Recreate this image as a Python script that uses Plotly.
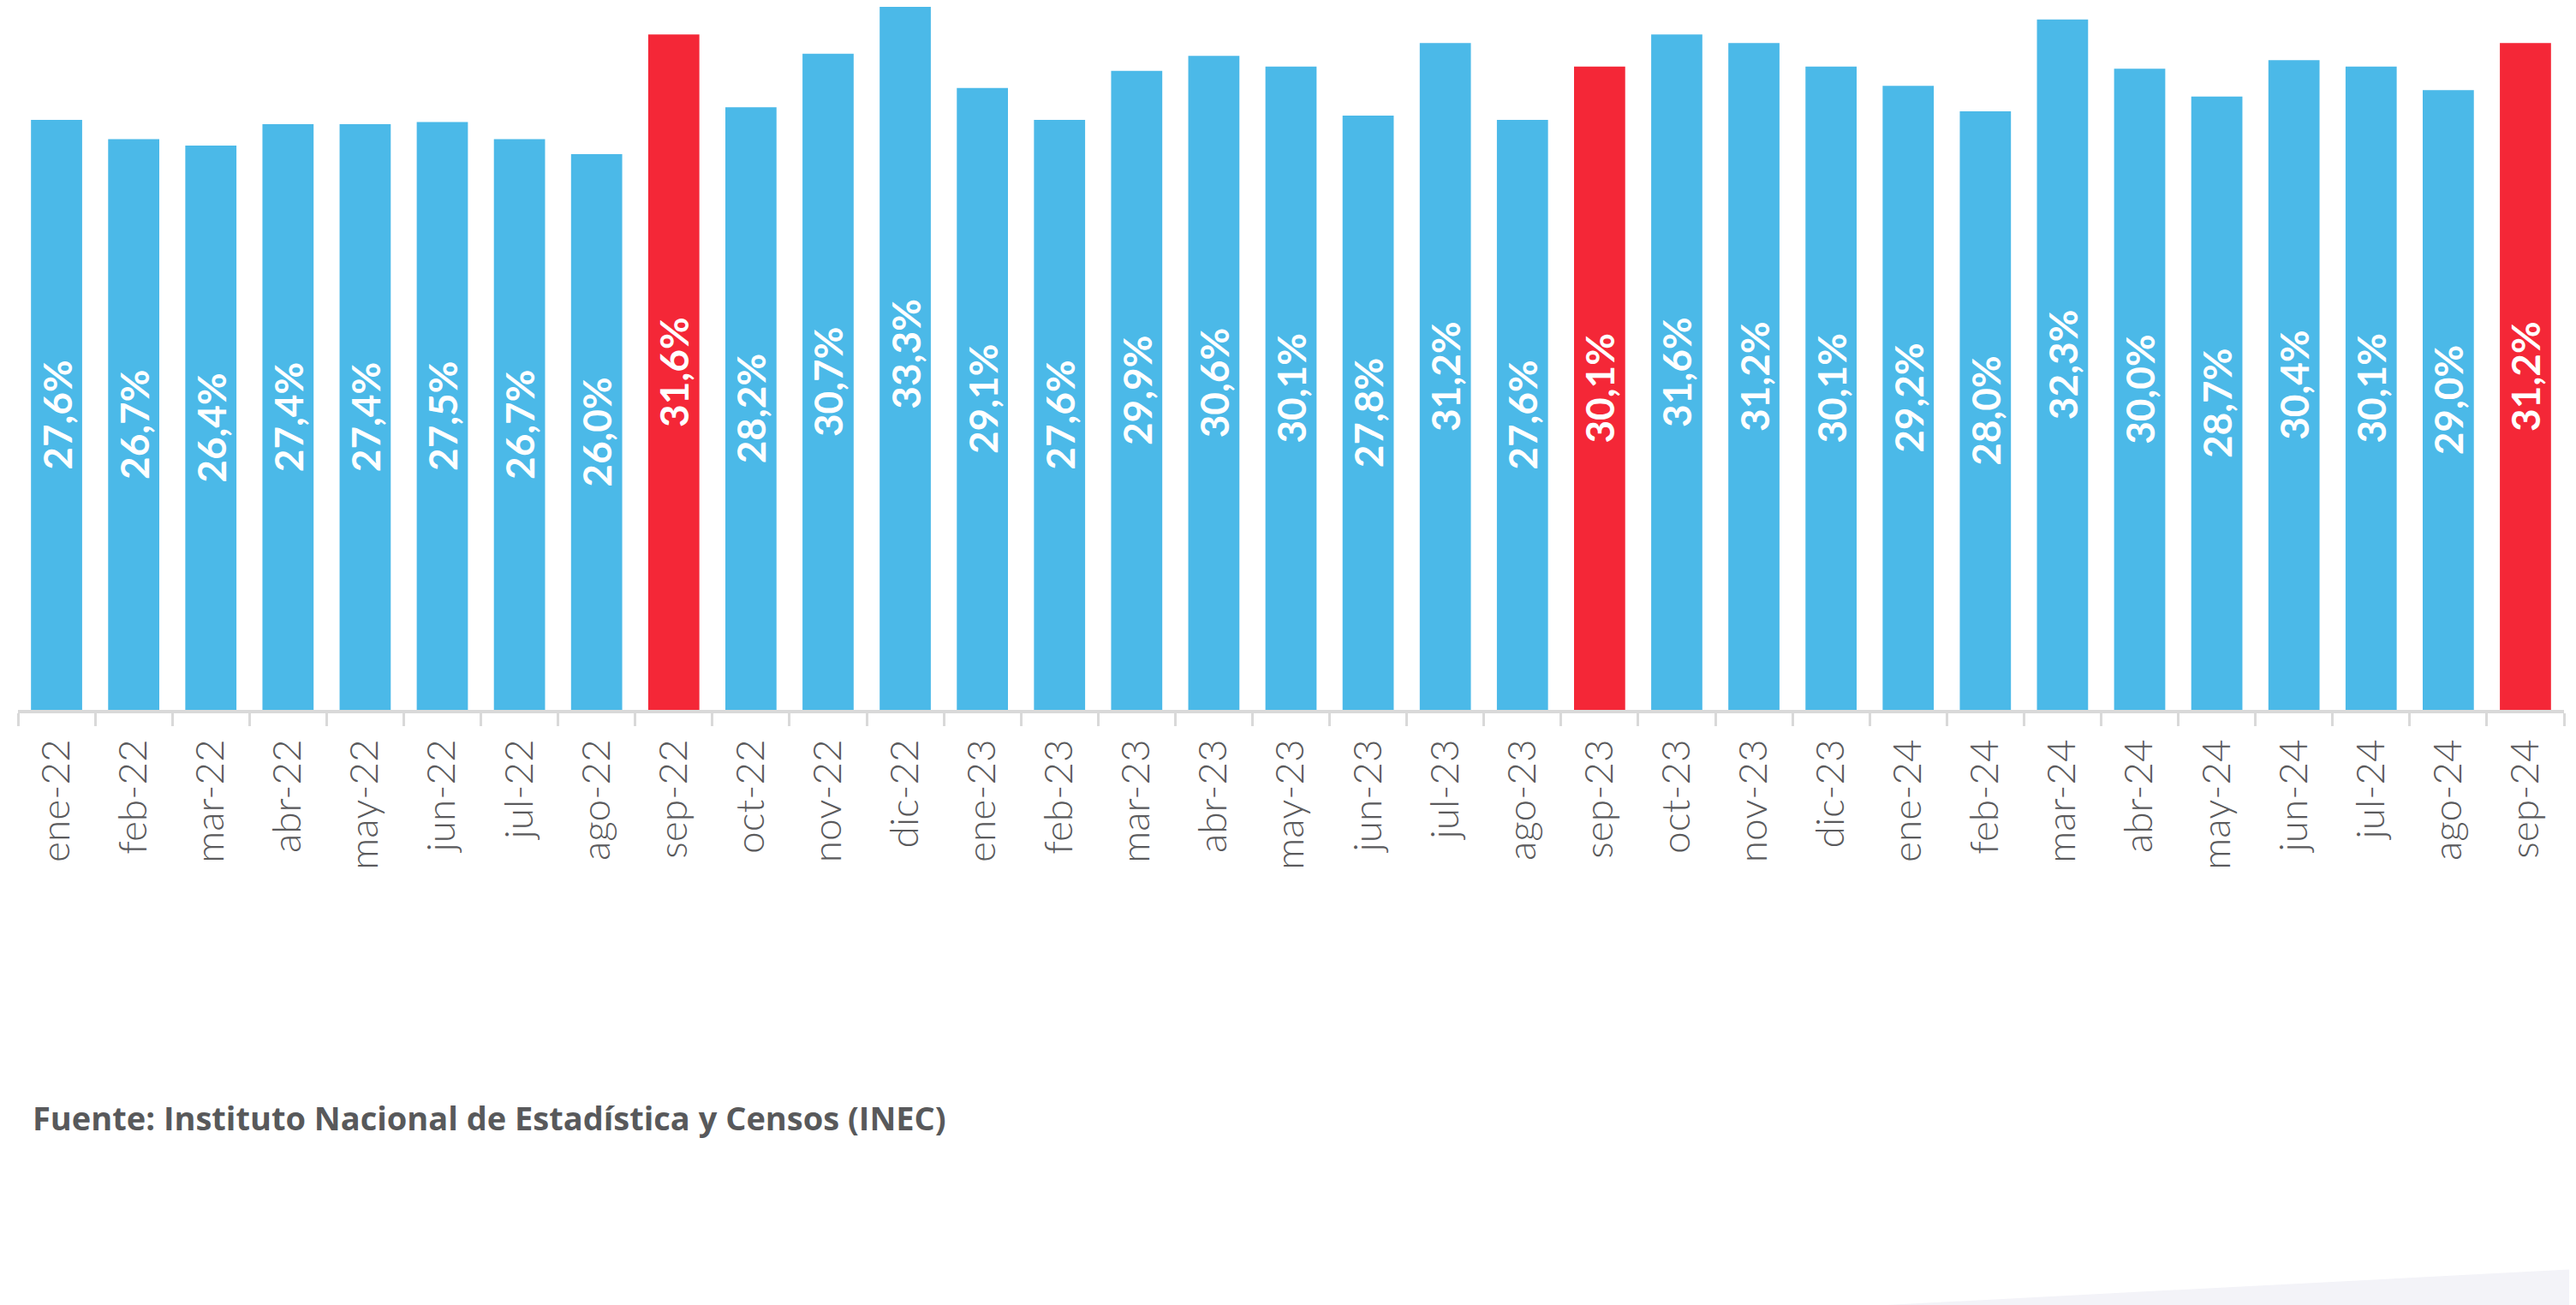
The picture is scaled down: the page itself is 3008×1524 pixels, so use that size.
import plotly.graph_objects as go

# ---------------- data ----------------
months = ["ene-22", "feb-22", "mar-22", "abr-22", "may-22", "jun-22", "jul-22", "ago-22",
          "sep-22", "oct-22", "nov-22", "dic-22",
          "ene-23", "feb-23", "mar-23", "abr-23", "may-23", "jun-23", "jul-23", "ago-23",
          "sep-23", "oct-23", "nov-23", "dic-23",
          "ene-24", "feb-24", "mar-24", "abr-24", "may-24", "jun-24", "jul-24", "ago-24",
          "sep-24"]
values = [27.6, 26.7, 26.4, 27.4, 27.4, 27.5, 26.7, 26.0,
          31.6, 28.2, 30.7, 33.3,
          29.1, 27.6, 29.9, 30.6, 30.1, 27.8, 31.2, 27.6,
          30.1, 31.6, 31.2, 30.1,
          29.2, 28.0, 32.3, 30.0, 28.7, 30.4, 30.1, 29.0,
          31.2]
highlight = ["sep-22", "sep-23", "sep-24"]
source_text = "Fuente: Instituto Nacional de Estadística y Censos (INEC)"

# ---------------- style ----------------
PAGE_OFF = 8                      # default body margin of the html page
W, H = 3008 - PAGE_OFF, 1524 - PAGE_OFF
ML, MR, MT = 12.5, 14, 0
PLOT_BOTTOM = 829 - PAGE_OFF
MB = H - PLOT_BOTTOM
PX_PER_UNIT = 24.96
BLUE = "#4bb9e8"
RED = "#f42737"
GREY_TXT = "#5a5a5c"
AXIS_GREY = "#d9d9d9"

colors = [RED if m in highlight else BLUE for m in months]
labels = [f"{v:.1f}%".replace(".", ",") for v in values]

fig = go.Figure()
fig.add_trace(go.Bar(
    x=months, y=values,
    marker=dict(color=colors, line=dict(width=0)),
    text=labels,
    textposition="inside",
    insidetextanchor="middle",
    textangle=-90,
    constraintext="none",
    textfont=dict(family="Lato", size=46, color="white", weight="bold"),
    hoverinfo="skip",
))

plot_h = PLOT_BOTTOM - MT
plot_w = W - ML - MR


def px_to_paper(px, py):
    # page pixel -> paper coordinates
    return (px - PAGE_OFF - ML) / plot_w, (PLOT_BOTTOM - (py - PAGE_OFF)) / plot_h


# light lavender band at the bottom right (background decoration)
band = [(2165, 1526), (3010, 1482), (3010, 1526)]
pts = [px_to_paper(x, y) for x, y in band]
path = "M " + " L ".join(f"{x:.5f},{y:.5f}" for x, y in pts) + " Z"

fx, fy = px_to_paper(36, 1305)

fig.update_layout(
    width=W, height=H,
    margin=dict(l=ML, r=MR, t=MT, b=MB, pad=0),
    paper_bgcolor="white",
    plot_bgcolor="rgba(0,0,0,0)",
    bargap=0.337,
    showlegend=False,
    uniformtext=dict(mode="show", minsize=46),
    xaxis=dict(
        type="category",
        range=[-0.5, len(months) - 0.5],
        tickson="boundaries",
        ticks="outside",
        ticklen=15,
        tickwidth=3,
        tickcolor=AXIS_GREY,
        showline=True,
        linecolor=AXIS_GREY,
        linewidth=4,
        showgrid=False,
        tickangle=-90,
        ticklabelstandoff=12,
        tickfont=dict(family="Lato", size=46, color=GREY_TXT, weight=300),
        fixedrange=True,
    ),
    yaxis=dict(
        range=[0, plot_h / PX_PER_UNIT],
        visible=False,
        showgrid=False,
        zeroline=False,
        fixedrange=True,
    ),
    shapes=[dict(type="path", xref="paper", yref="paper", path=path,
                 fillcolor="#f3f3f8", line=dict(width=0), layer="below")],
    annotations=[dict(
        xref="paper", yref="paper", x=fx, y=fy,
        xanchor="left", yanchor="middle", showarrow=False,
        text="<b>" + source_text + "</b>",
        font=dict(family="Open Sans", size=38, color="#58595b"),
    )],
)

fig.write_html("out.html")
